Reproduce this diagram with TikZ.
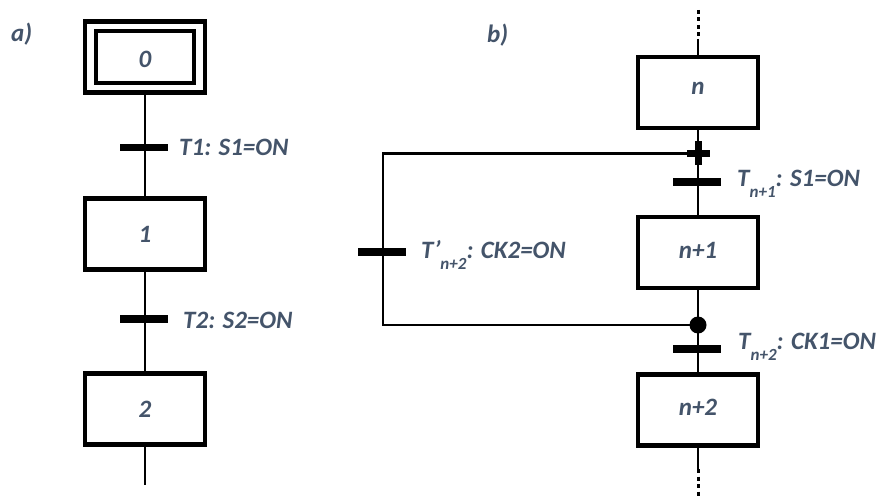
\documentclass[tikz,border=0pt]{standalone}
\usepackage{fontspec}
\setmainfont{Carlito}
\definecolor{labelslate}{HTML}{44546A}
\newcommand\lowsub[1]{\raisebox{-11pt}{\fontsize{17}{17}\selectfont #1}}
\begin{document}
\begin{tikzpicture}[x=1pt,y=-1pt,
  every node/.style={font=\fontsize{25}{30}\selectfont\bfseries\itshape, text=labelslate},
  stepbox/.style={draw=black, line width=4.7pt, minimum width=120pt, minimum height=71pt,
    inner sep=0pt, text height=16pt, text depth=0pt},
  innerbox/.style={draw=black, line width=3.5pt, minimum width=98pt, minimum height=52.4pt,
    inner sep=0pt, text height=21pt, text depth=0pt},
  trans/.style={fill=black, minimum width=48pt, minimum height=7.5pt, inner sep=0pt, outer sep=0pt},
  link/.style={draw=black, line width=2.5pt},
  dots/.style={draw=black, line width=3pt, dash pattern=on 4pt off 3.5pt},
  joinmark/.style={draw=black, line width=7pt},
  lbl/.style={anchor=base west, inner sep=0pt},
]
\useasboundingbox (0,0) rectangle (882,497);

% ---- a) linear sequence
\node[lbl] (la) at (11,42) {a)};
\node[stepbox] (s0) at (145,57) {};
\node[innerbox] (s0i) at (s0.center) {0};
\node[stepbox] (s1) at (145,234) {1};
\node[stepbox] (s2) at (145,409) {2};
\coordinate (aend) at (145,485);

\draw[link] (s0) -- (s1);
\draw[link] (s1) -- (s2);
\draw[link] (s2) -- (aend);
\node[trans] (t1) at (144,147.5) {};
\node[trans] (t2) at (144,319) {};
\node[lbl] (lt1) at (179,156) {T1: S1=ON};
\node[lbl] (lt2) at (183,328) {T2: S2=ON};

% ---- b) sequence with a parallel branch
\node[lbl] (lb) at (487,43) {b)};
\node[stepbox, text depth=11pt] (n) at (698,92.5) {n};
\node[stepbox, text depth=4pt] (n1) at (698,252.5) {n+1};
\node[stepbox, text depth=6pt] (n2) at (698,410) {n+2};

\coordinate (top) at (698,10);
\coordinate (topsolid) at (698,39);
\coordinate (botsolid) at (698,469);
\coordinate (bot) at (698,497);
\coordinate (jn) at (698,153.5);
\coordinate (jd) at (698,325);
\coordinate (lbot) at (383,325);
\coordinate (ltop) at (383,153.5);

\draw[dots] (top) -- (topsolid);
\draw[link] (topsolid) -- (n);
\draw[link] (n) -- (n1);
\draw[link] (n1) -- (n2);
\draw[link] (n2) -- (botsolid);
\draw[dots] (botsolid) -- (bot);

% feedback branch
\draw[link] (jd) -- (lbot) -- (ltop) -- (jn);
\draw[joinmark] (jn) ++(0,-12) -- ++(0,23.5);
\draw[joinmark] (jn) ++(-11,0) -- ++(23,0);
\fill[black] (jd) circle (8.5pt);

\node[trans] (tn1) at (697,182) {};
\node[trans] (tn2) at (697,349) {};
\node[trans] (tpn2) at (382,252) {};

\node[lbl] (ltn1) at (737,186) {T\lowsub{n+1}: S1=ON};
\node[lbl] (ltn2) at (738,349) {T\lowsub{n+2}: CK1=ON};
\node[lbl] (ltpn2) at (421,258) {T’\lowsub{n+2}: CK2=ON};
\end{tikzpicture}
\end{document}
